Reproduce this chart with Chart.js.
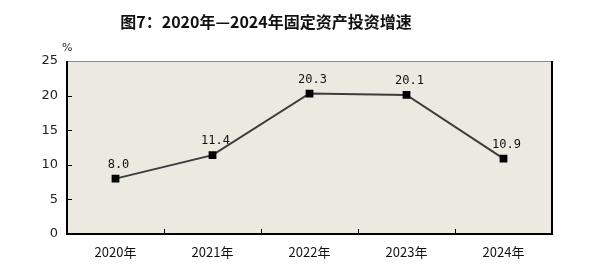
<!DOCTYPE html>
<html>
<head>
<meta charset="utf-8">
<script src="https://cdn.jsdelivr.net/npm/chart.js@4/dist/chart.umd.min.js"></script>
<style>
  html, body { margin: 0; padding: 0; background: #fff; }
  #wrap { width: 601px; height: 269px; position: relative; }
</style>
</head>
<body>
<div id="wrap"><canvas id="growthChart" width="601" height="269"></canvas></div>
<script>
// Chart data
const chartTitle = '图7：2020年—2024年固定资产投资增速';
const years = ['2020年', '2021年', '2022年', '2023年', '2024年'];
const growthRates = [8.0, 11.4, 20.3, 20.1, 10.9];
const yTicks = [0, 5, 10, 15, 20, 25];
const unitLabel = '%';

const plotBg = '#ECE9E0';
const cjkFont = '"Noto Sans CJK SC", "Noto Sans", sans-serif';

// Background, frame, inward tick marks, title, unit and value labels
const decorPlugin = {
    id: 'decor',
    beforeDatasetsDraw(chart) {
        const ctx = chart.ctx;
        const a = chart.chartArea;
        const xs = chart.scales.x;
        const ys = chart.scales.y;
        ctx.save();
        ctx.fillStyle = plotBg;
        ctx.fillRect(a.left, a.top, a.right - a.left, a.bottom - a.top);

        // frame: top grey, others black
        ctx.lineWidth = 1;
        ctx.strokeStyle = '#8a8a8a';
        ctx.beginPath();
        ctx.moveTo(a.left, a.top + 0.5);
        ctx.lineTo(a.right, a.top + 0.5);
        ctx.stroke();
        ctx.strokeStyle = '#000';
        ctx.lineWidth = 2;
        ctx.beginPath();
        ctx.moveTo(a.left, a.top);
        ctx.lineTo(a.left, a.bottom);
        ctx.lineTo(a.right, a.bottom);
        ctx.lineTo(a.right, a.top);
        ctx.stroke();

        // y ticks pointing inward
        ctx.lineWidth = 1;
        yTicks.forEach(v => {
            if (v === 0 || v === 25) return;
            const y = Math.round(ys.getPixelForValue(v)) + 0.5;
            ctx.beginPath();
            ctx.moveTo(a.left, y);
            ctx.lineTo(a.left + 5, y);
            ctx.stroke();
        });
        // x ticks between categories
        for (let i = 0; i < years.length - 1; i++) {
            const x = Math.round((xs.getPixelForTick(i) + xs.getPixelForTick(i + 1)) / 2) + 0.5;
            ctx.beginPath();
            ctx.moveTo(x, a.bottom);
            ctx.lineTo(x, a.bottom - 5);
            ctx.stroke();
        }
        ctx.restore();
    },
    afterDatasetsDraw(chart) {
        const ctx = chart.ctx;
        const a = chart.chartArea;
        ctx.save();
        // title
        ctx.fillStyle = '#111';
        ctx.font = 'bold 16px ' + cjkFont;
        ctx.textAlign = 'center';
        ctx.textBaseline = 'middle';
        ctx.fillText(chartTitle, 266, 22);

        // unit
        ctx.font = '11px "DejaVu Sans"';
        ctx.textAlign = 'left';
        ctx.fillStyle = '#222';
        ctx.fillText(unitLabel, a.left - 5, a.top - 13);

        // value labels
        ctx.font = '12px "DejaVu Sans Mono", monospace';
        ctx.textAlign = 'center';
        ctx.textBaseline = 'bottom';
        ctx.fillStyle = '#111';
        const meta = chart.getDatasetMeta(0);
        meta.data.forEach((pt, i) => {
            ctx.fillText(growthRates[i].toFixed(1), pt.x + 3, pt.y - 8);
        });
        ctx.restore();
    }
};

const ctx = document.getElementById('growthChart').getContext('2d');
new Chart(ctx, {
    type: 'line',
    data: {
        labels: years,
        datasets: [{
            data: growthRates,
            borderColor: '#3c3c3c',
            borderWidth: 2,
            tension: 0,
            pointStyle: 'rect',
            pointRadius: 5.5,
            pointBackgroundColor: '#000',
            pointBorderColor: '#000',
            pointBorderWidth: 0
        }]
    },
    options: {
        responsive: false,
        animation: false,
        layout: { padding: { top: 61, right: 49, left: 0, bottom: 0 } },
        plugins: {
            legend: { display: false },
            title: { display: false },
            tooltip: { enabled: false }
        },
        scales: {
            x: {
                type: 'category',
                offset: true,
                border: { display: false },
                grid: { display: false, drawTicks: false },
                ticks: {
                    color: '#111',
                    padding: 10,
                    font: { family: cjkFont, size: 13 }
                },
                afterFit: s => { s.height = 35; }
            },
            y: {
                min: 0,
                max: 25,
                border: { display: false },
                grid: { display: false, drawTicks: false },
                afterBuildTicks: s => { s.ticks = yTicks.map(v => ({ value: v })); },
                ticks: {
                    color: '#222',
                    padding: 9,
                    font: { family: '"DejaVu Sans"', size: 13 }
                },
                afterFit: s => { s.width = 67; }
            }
        }
    },
    plugins: [decorPlugin]
});
</script>
</body>
</html>
